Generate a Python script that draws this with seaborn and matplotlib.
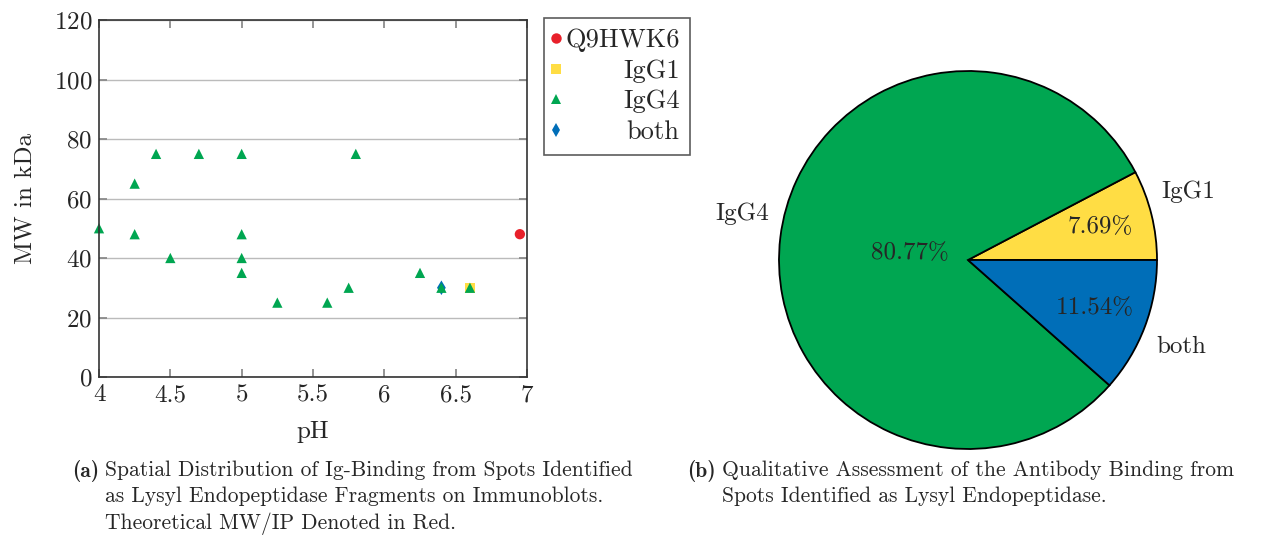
import numpy as np
import pandas as pd
import matplotlib
matplotlib.use("Agg")
import matplotlib.pyplot as plt
import seaborn as sns

# scatter data (pH, MW in kDa) per binding group
q9_ph = [6.95]
q9_mw = [48]
igg1_ph = [6.6]
igg1_mw = [30]
both_ph = [6.4]
both_mw = [30]
igg4_ph = [4.0, 4.25, 4.25, 4.4, 4.5, 4.7, 5.0, 5.0, 5.0, 5.0, 5.25, 5.6, 5.75, 5.8, 6.25, 6.4, 6.6]
igg4_mw = [50, 65, 48, 75, 40, 75, 75, 48, 40, 35, 25, 25, 30, 75, 35, 30, 30]

# pie data
pie_labels = ["IgG1", "IgG4", "both"]
pie_counts = [2, 21, 3]

groups = ["Q9HWK6", "IgG1", "IgG4", "both"]
colors = {"Q9HWK6": "#e8202a", "IgG1": "#ffdd44", "IgG4": "#00a651", "both": "#006eb8"}
markers = {"Q9HWK6": "o", "IgG1": "s", "IgG4": "^", "both": "d"}

sns.set_theme(style="white")
plt.rcParams["font.family"] = ["cmr10", "DejaVu Serif"]
plt.rcParams["mathtext.fontset"] = "cm"
plt.rcParams["axes.formatter.use_mathtext"] = True

# IgG4 last so it sits on top of overlapping markers
df = pd.concat([
    pd.DataFrame({"pH": q9_ph, "MW": q9_mw, "group": "Q9HWK6"}),
    pd.DataFrame({"pH": igg1_ph, "MW": igg1_mw, "group": "IgG1"}),
    pd.DataFrame({"pH": both_ph, "MW": both_mw, "group": "both"}),
    pd.DataFrame({"pH": igg4_ph, "MW": igg4_mw, "group": "IgG4"}),
], ignore_index=True)

fig = plt.figure(figsize=(12.65, 5.4), dpi=100)
ax = fig.add_axes([99 / 1265, 1 - 377 / 540, 428 / 1265, 357 / 540])

sns.scatterplot(data=df, x="pH", y="MW", hue="group", style="group",
                hue_order=groups, style_order=groups, palette=colors,
                markers=markers, s=55, linewidth=0, ax=ax, clip_on=False)

ax.set_xlim(4, 7)
ax.set_ylim(0, 120)
ax.set_xticks([4, 4.5, 5, 5.5, 6, 6.5, 7])
ax.set_xticklabels(["4", "4.5", "5", "5.5", "6", "6.5", "7"])
ax.set_yticks(range(0, 121, 20))
ax.yaxis.grid(True, color="#bbbbbb", linewidth=1)
ax.set_axisbelow(True)
ax.tick_params(direction="in", length=6, color="#888888", labelsize=18,
               top=True, right=True, bottom=True, left=True, pad=5)
for sp in ax.spines.values():
    sp.set_color("#333333")
    sp.set_linewidth(1.2)
ax.set_xlabel("pH", fontsize=18, labelpad=11)
ax.set_ylabel("MW in kDa", fontsize=18, labelpad=12)

leg = ax.legend(loc="upper left", bbox_to_anchor=(544 / 1265, 1 - 18 / 540),
                bbox_transform=fig.transFigure, fontsize=19,
                frameon=True, fancybox=False, edgecolor="#333333",
                handletextpad=0.3, handlelength=0.1, borderpad=0.4,
                labelspacing=0.26, borderaxespad=0)
leg.get_frame().set_linewidth(1.2)
for h in leg.legend_handles:
    h.set_markersize(7.5)

# right-align legend labels like the original
fig.canvas.draw()
widths = [t.get_window_extent().width for t in leg.get_texts()]
wmax = max(widths)
for t, w in zip(leg.get_texts(), widths):
    t.set_position((wmax - w, 0))

# pie chart
pax = fig.add_axes([779 / 1265, 91 / 540, 378 / 1265, 378 / 540])
pie_colors = [colors[l] for l in pie_labels]
wedges, texts, autotexts = pax.pie(
    pie_counts, labels=pie_labels, colors=pie_colors, startangle=0,
    counterclock=True, autopct="%.2f%%", pctdistance=0.72, labeldistance=1.22,
    wedgeprops={"edgecolor": "black", "linewidth": 1.3},
    textprops={"fontsize": 18})
# small angle nudges so outer labels sit where the original put them
nudge = {"IgG1": 3.4, "IgG4": -4.7, "both": -1.4}
for t, w, lab in zip(texts, wedges, pie_labels):
    a = np.deg2rad((w.theta1 + w.theta2) / 2 + nudge[lab])
    t.set_position((1.22 * np.cos(a), 1.22 * np.sin(a)))
    t.set_ha("center")
    t.set_va("center")
# big slice label sits closer to the centre
big = int(np.argmax(pie_counts))
w = wedges[big]
ang = np.deg2rad((w.theta1 + w.theta2) / 2)
autotexts[big].set_position((0.31 * np.cos(ang), 0.31 * np.sin(ang)))
pax.set_xlim(-1, 1)
pax.set_ylim(-1, 1)
pax.set_aspect("equal")

# captions
cap_size = 15.5
fig.text(99 / 1265, 1 - 471 / 540, "(a)", fontsize=cap_size, family=["cmb10", "DejaVu Serif"],
         ha="right", va="center")
fig.text(105 / 1265, 1 - 460 / 540,
         "Spatial Distribution of Ig-Binding from Spots Identified\n"
         "as Lysyl Endopeptidase Fragments on Immunoblots.\n"
         "Theoretical MW/IP Denoted in Red.",
         fontsize=cap_size, ha="left", va="top", linespacing=1.42)
fig.text(716 / 1265, 1 - 471 / 540, "(b)", fontsize=cap_size, family=["cmb10", "DejaVu Serif"],
         ha="right", va="center")
fig.text(722 / 1265, 1 - 460 / 540,
         "Qualitative Assessment of the Antibody Binding from\n"
         "Spots Identified as Lysyl Endopeptidase.",
         fontsize=cap_size, ha="left", va="top", linespacing=1.42)

fig.savefig("out.png", dpi=100)
